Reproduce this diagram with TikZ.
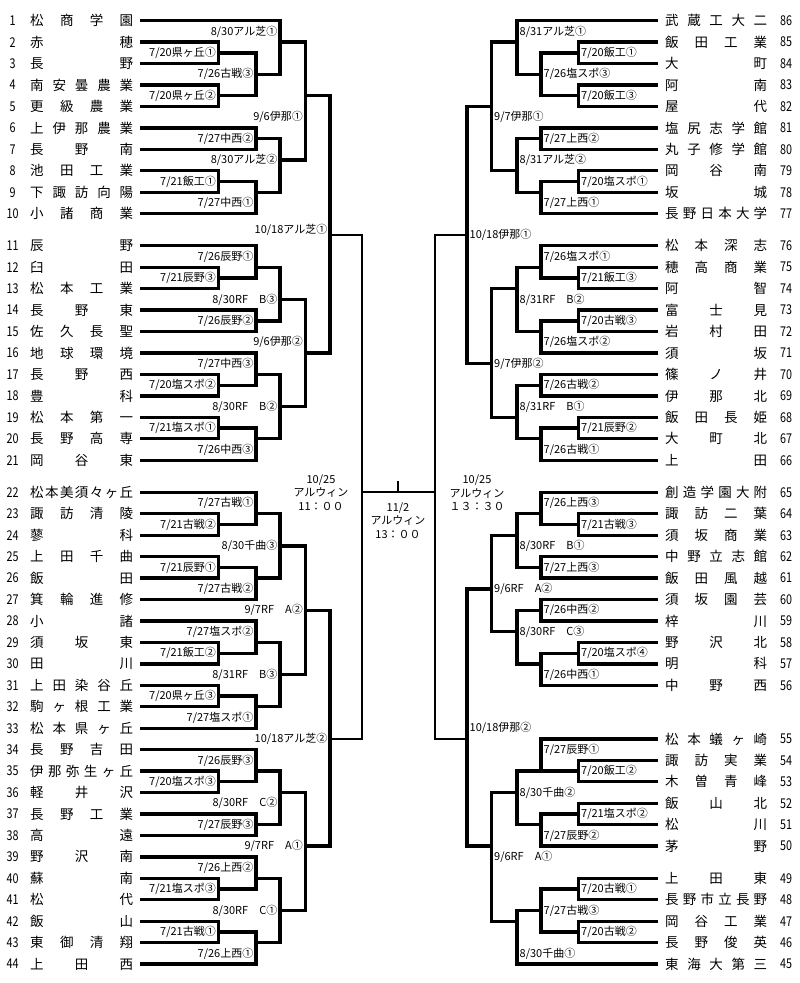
\documentclass[tikz,border=0pt]{standalone}
\usepackage{fontspec}
\usepackage{graphicx}
\setmainfont{Noto Sans CJK JP}
\def\sprEnd{}
\def\spr#1{\sprA#1\sprEnd}
\def\sprA#1#2{#1\ifx#2\sprEnd\else\hfill\expandafter\sprA\expandafter#2\fi}
\newcount\labc
\def\LA{218.5}\def\LB{256}\def\LC{280}\def\LD{305.5}\def\LE{330}\def\LF{362}
\def\RA{578.5}\def\RB{541}\def\RC{517}\def\RD{491.5}\def\RE{467}\def\RF{435}
\tikzset{
 U/.style={line width=3.3pt,line cap=rect},
 C/.style={line width=2pt,line cap=rect},
 O/.style={U},
 nm/.style={inner sep=0pt,font=\fontsize{13.5}{14}\selectfont},
 num/.style={inner sep=0pt,font=\fontsize{13.5}{14}\selectfont},
 lab/.style={inner sep=0pt,font=\fontsize{11}{12}\selectfont},
 ctr/.style={inner sep=0pt,align=center,font=\fontsize{11}{13.5}\selectfont},
}
\newcommand\LT[5]{%
  \node[num] (n#1) at (12.5,#2) {\scalebox{0.8}[1]{#1}};
  \node[nm,anchor=west] (t#1) at (30,#2) {\makebox[103pt][s]{\spr{#3}}};
  \draw[#5] (142,#2) -- (#4,#2);
}
\newcommand\RT[5]{%
  \node[num] (n#1) at (786,#2) {\scalebox{0.8}[1]{#1}};
  \node[nm,anchor=west] (t#1) at (665,#2) {\makebox[102pt][s]{\spr{#3}}};
  \draw[#5] (656,#2) -- (#4,#2);
}
\newcommand\LM[9]{%
  \draw[#6] (#1,#2) -- (#1,#4);
  \draw[#7] (#1,#4) -- (#1,#3);
  \draw[O] (#1,#4) -- (#5,#4);
  \global\advance\labc by 1
  \node[lab,anchor=east] (m\the\labc) at ([xshift=-2.5pt]#1,#9) {#8};
}
\newcommand\RM[9]{%
  \draw[#6] (#1,#2) -- (#1,#4);
  \draw[#7] (#1,#4) -- (#1,#3);
  \draw[O] (#1,#4) -- (#5,#4);
  \global\advance\labc by 1
  \node[lab,anchor=west] (m\the\labc) at ([xshift=2.5pt]#1,#9) {#8};
}
\begin{document}
\begin{tikzpicture}[x=1pt,y=-10.72pt]
\useasboundingbox[fill=white] (0,-1.931) rectangle (800,89.767);
% ---------------- left teams
\LT{1}{0}{松商学園}{\LC}{U}
\LT{2}{2}{赤穂}{\LA}{U}
\LT{3}{4}{長野}{\LA}{U}
\LT{4}{6}{南安曇農業}{\LA}{U}
\LT{5}{8}{更級農業}{\LA}{U}
\LT{6}{10}{上伊那農業}{\LB}{U}
\LT{7}{12}{長野南}{\LB}{U}
\LT{8}{14}{池田工業}{\LA}{U}
\LT{9}{16}{下諏訪向陽}{\LA}{U}
\LT{10}{18}{小諸商業}{\LB}{U}
\LT{11}{21}{辰野}{\LB}{U}
\LT{12}{23}{臼田}{\LA}{U}
\LT{13}{25}{松本工業}{\LA}{U}
\LT{14}{27}{長野東}{\LB}{U}
\LT{15}{29}{佐久長聖}{\LB}{U}
\LT{16}{31}{地球環境}{\LB}{U}
\LT{17}{33}{長野西}{\LA}{U}
\LT{18}{35}{豊科}{\LA}{U}
\LT{19}{37}{松本第一}{\LA}{U}
\LT{20}{39}{長野高専}{\LA}{U}
\LT{21}{41}{岡谷東}{\LB}{U}
\LT{22}{44}{松本美須々ヶ丘}{\LB}{U}
\LT{23}{46}{諏訪清陵}{\LA}{U}
\LT{24}{48}{蓼科}{\LA}{U}
\LT{25}{50}{上田千曲}{\LA}{U}
\LT{26}{52}{飯田}{\LA}{U}
\LT{27}{54}{箕輪進修}{\LB}{U}
\LT{28}{56}{小諸}{\LB}{U}
\LT{29}{58}{須坂東}{\LA}{U}
\LT{30}{60}{田川}{\LA}{U}
\LT{31}{62}{上田染谷丘}{\LA}{U}
\LT{32}{64}{駒ヶ根工業}{\LA}{U}
\LT{33}{66}{松本県ヶ丘}{\LB}{U}
\LT{34}{68}{長野吉田}{\LB}{U}
\LT{35}{70}{伊那弥生ヶ丘}{\LA}{U}
\LT{36}{72}{軽井沢}{\LA}{U}
\LT{37}{74}{長野工業}{\LB}{U}
\LT{38}{76}{高遠}{\LB}{U}
\LT{39}{78}{野沢南}{\LB}{U}
\LT{40}{80}{蘇南}{\LA}{U}
\LT{41}{82}{松代}{\LA}{U}
\LT{42}{84}{飯山}{\LA}{U}
\LT{43}{86}{東御清翔}{\LA}{U}
\LT{44}{88}{上田西}{\LB}{U}
% ---------------- right teams
\RT{86}{0}{武蔵工大二}{\RC}{U}
\RT{85}{2}{飯田工業}{\RA}{U}
\RT{84}{4}{大町}{\RA}{U}
\RT{83}{6}{阿南}{\RA}{U}
\RT{82}{8}{屋代}{\RA}{U}
\RT{81}{10}{塩尻志学館}{\RB}{U}
\RT{80}{12}{丸子修学館}{\RB}{U}
\RT{79}{14}{岡谷南}{\RA}{U}
\RT{78}{16}{坂城}{\RA}{U}
\RT{77}{18}{長野日本大学}{\RB}{U}
\RT{76}{21}{松本深志}{\RB}{U}
\RT{75}{23}{穂高商業}{\RA}{U}
\RT{74}{25}{阿智}{\RA}{U}
\RT{73}{27}{富士見}{\RA}{U}
\RT{72}{29}{岩村田}{\RA}{U}
\RT{71}{31}{須坂}{\RB}{U}
\RT{70}{33}{篠ノ井}{\RB}{U}
\RT{69}{35}{伊那北}{\RB}{U}
\RT{68}{37}{飯田長姫}{\RA}{U}
\RT{67}{39}{大町北}{\RA}{U}
\RT{66}{41}{上田}{\RB}{U}
\RT{65}{44}{創造学園大附}{\RB}{U}
\RT{64}{46}{諏訪二葉}{\RA}{U}
\RT{63}{48}{須坂商業}{\RA}{U}
\RT{62}{50}{中野立志館}{\RB}{U}
\RT{61}{52}{飯田風越}{\RB}{U}
\RT{60}{54}{須坂園芸}{\RB}{U}
\RT{59}{56}{梓川}{\RB}{U}
\RT{58}{58}{野沢北}{\RA}{U}
\RT{57}{60}{明科}{\RA}{U}
\RT{56}{62}{中野西}{\RB}{U}
\RT{55}{67}{松本蟻ヶ崎}{\RB}{U}
\RT{54}{69}{諏訪実業}{\RA}{U}
\RT{53}{71}{木曽青峰}{\RA}{U}
\RT{52}{73}{飯山北}{\RA}{U}
\RT{51}{75}{松川}{\RA}{U}
\RT{50}{77}{茅野}{\RB}{U}
\RT{49}{80}{上田東}{\RA}{U}
\RT{48}{82}{長野市立長野}{\RA}{U}
\RT{47}{84}{岡谷工業}{\RA}{U}
\RT{46}{86}{長野俊英}{\RA}{U}
\RT{45}{88}{東海大第三}{\RC}{U}
% ---------------- left matches
\LM{\LA}{2}{4}{3}{\LB}{U}{U}{7/20県ヶ丘①}{3}
\LM{\LA}{6}{8}{7}{\LB}{U}{U}{7/20県ヶ丘②}{7}
\LM{\LB}{3}{7}{5}{\LC}{U}{U}{7/26古戦③}{5}
\LM{\LC}{0}{5}{2}{\LD}{U}{U}{8/30アル芝①}{1}
\LM{\LB}{10}{12}{11}{\LC}{U}{U}{7/27中西②}{11}
\LM{\LA}{14}{16}{15}{\LB}{U}{U}{7/21飯工①}{15}
\LM{\LB}{15}{18}{16}{\LC}{U}{U}{7/27中西①}{17}
\LM{\LC}{11}{16}{13}{\LD}{U}{U}{8/30アル芝②}{13}
\LM{\LD}{2}{13}{7}{\LE}{U}{U}{9/6伊那①}{9}
\LM{\LA}{23}{25}{24}{\LB}{U}{U}{7/21辰野③}{24}
\LM{\LB}{21}{24}{23}{\LC}{U}{U}{7/26辰野①}{22}
\LM{\LB}{27}{29}{28}{\LC}{U}{U}{7/26辰野②}{28}
\LM{\LC}{23}{28}{26}{\LD}{U}{U}{8/30RF　B③}{26}
\LM{\LA}{33}{35}{34}{\LB}{U}{U}{7/20塩スポ②}{34}
\LM{\LB}{31}{34}{33}{\LC}{U}{U}{7/27中西③}{32}
\LM{\LA}{37}{39}{38}{\LB}{U}{U}{7/21塩スポ①}{38}
\LM{\LB}{38}{41}{39}{\LC}{U}{U}{7/26中西③}{40}
\LM{\LC}{33}{39}{36}{\LD}{U}{U}{8/30RF　B②}{36}
\LM{\LD}{26}{36}{31}{\LE}{U}{U}{9/6伊那②}{30}
\LM{\LA}{46}{48}{47}{\LB}{U}{U}{7/21古戦②}{47}
\LM{\LB}{44}{47}{46}{\LC}{U}{U}{7/27古戦①}{45}
\LM{\LA}{50}{52}{51}{\LB}{U}{U}{7/21辰野①}{51}
\LM{\LB}{51}{54}{52}{\LC}{U}{U}{7/27古戦②}{53}
\LM{\LC}{46}{52}{49}{\LD}{U}{U}{8/30千曲③}{49}
\LM{\LA}{58}{60}{59}{\LB}{U}{U}{7/21飯工②}{59}
\LM{\LB}{56}{59}{58}{\LC}{U}{U}{7/27塩スポ②}{57}
\LM{\LA}{62}{64}{63}{\LB}{U}{U}{7/20県ヶ丘③}{63}
\LM{\LB}{63}{66}{64}{\LC}{U}{U}{7/27塩スポ①}{65}
\LM{\LC}{58}{64}{61}{\LD}{U}{U}{8/31RF　B③}{61}
\LM{\LD}{49}{61}{55}{\LE}{U}{U}{9/7RF　A②}{55}
\LM{\LA}{70}{72}{71}{\LB}{U}{U}{7/20塩スポ③}{71}
\LM{\LB}{68}{71}{70}{\LC}{U}{U}{7/26辰野③}{69}
\LM{\LB}{74}{76}{75}{\LC}{U}{U}{7/27辰野③}{75}
\LM{\LC}{70}{75}{72}{\LD}{U}{U}{8/30RF　C②}{73}
\LM{\LA}{80}{82}{81}{\LB}{U}{U}{7/21塩スポ③}{81}
\LM{\LB}{78}{81}{80}{\LC}{U}{U}{7/26上西②}{79}
\LM{\LA}{84}{86}{85}{\LB}{U}{U}{7/21古戦①}{85}
\LM{\LB}{85}{88}{86}{\LC}{U}{U}{7/26上西①}{87}
\LM{\LC}{80}{86}{83}{\LD}{U}{U}{8/30RF　C①}{83}
\LM{\LD}{72}{83}{77}{\LE}{U}{U}{9/7RF　A①}{77}
% ---------------- right matches
\RM{\RA}{2}{4}{3}{\RB}{U}{U}{7/20飯工①}{3}
\RM{\RA}{6}{8}{7}{\RB}{U}{U}{7/20飯工③}{7}
\RM{\RB}{3}{7}{5}{\RC}{U}{U}{7/26塩スポ③}{5}
\RM{\RC}{0}{5}{2}{\RD}{U}{U}{8/31アル芝①}{1}
\RM{\RB}{10}{12}{11}{\RC}{U}{U}{7/27上西②}{11}
\RM{\RA}{14}{16}{15}{\RB}{U}{U}{7/20塩スポ①}{15}
\RM{\RB}{15}{18}{16}{\RC}{U}{U}{7/27上西①}{17}
\RM{\RC}{11}{16}{14}{\RD}{U}{U}{8/31アル芝②}{13}
\RM{\RD}{2}{14}{8}{\RE}{U}{U}{9/7伊那①}{9}
\RM{\RA}{23}{25}{24}{\RB}{U}{U}{7/21飯工③}{24}
\RM{\RB}{21}{24}{23}{\RC}{U}{U}{7/26塩スポ①}{22}
\RM{\RA}{27}{29}{28}{\RB}{U}{U}{7/20古戦③}{28}
\RM{\RB}{28}{31}{29}{\RC}{U}{U}{7/26塩スポ②}{30}
\RM{\RC}{23}{29}{25}{\RD}{U}{U}{8/31RF　B②}{26}
\RM{\RB}{33}{35}{34}{\RC}{U}{U}{7/26古戦②}{34}
\RM{\RA}{37}{39}{38}{\RB}{U}{U}{7/21辰野②}{38}
\RM{\RB}{38}{41}{39}{\RC}{U}{U}{7/26古戦①}{40}
\RM{\RC}{34}{39}{37}{\RD}{U}{U}{8/31RF　B①}{36}
\RM{\RD}{25}{37}{32}{\RE}{U}{U}{9/7伊那②}{32}
\RM{\RA}{46}{48}{47}{\RB}{U}{U}{7/21古戦③}{47}
\RM{\RB}{44}{47}{46}{\RC}{U}{U}{7/26上西③}{45}
\RM{\RB}{50}{52}{51}{\RC}{U}{U}{7/27上西③}{51}
\RM{\RC}{46}{51}{48}{\RD}{U}{U}{8/30RF　B①}{49}
\RM{\RB}{54}{56}{55}{\RC}{U}{U}{7/26中西②}{55}
\RM{\RA}{58}{60}{59}{\RB}{U}{U}{7/20塩スポ④}{59}
\RM{\RB}{59}{62}{60}{\RC}{U}{U}{7/26中西①}{61}
\RM{\RC}{55}{60}{57}{\RD}{U}{U}{8/30RF　C③}{57}
\RM{\RD}{48}{57}{53}{\RE}{U}{U}{9/6RF　A②}{53}
\RM{\RA}{69}{71}{70}{\RB}{U}{U}{7/20飯工②}{70}
\RM{\RB}{67}{70}{70}{\RC}{U}{U}{7/27辰野①}{68}
\RM{\RA}{73}{75}{74}{\RB}{U}{U}{7/21塩スポ②}{74}
\RM{\RB}{74}{77}{75}{\RC}{U}{U}{7/27辰野②}{76}
\RM{\RC}{70}{75}{72}{\RD}{U}{U}{8/30千曲②}{72}
\RM{\RA}{80}{82}{81}{\RB}{U}{U}{7/20古戦①}{81}
\RM{\RA}{84}{86}{85}{\RB}{U}{U}{7/20古戦②}{85}
\RM{\RB}{81}{85}{83}{\RC}{U}{U}{7/27古戦③}{83}
\RM{\RC}{83}{88}{84}{\RD}{U}{U}{8/30千曲①}{87}
\RM{\RD}{72}{84}{77}{\RE}{U}{U}{9/6RF　A①}{78}
% ---------------- quarterfinals (10/18): thinner outputs
\tikzset{O/.style={C}}
\LM{\LE}{7}{31}{20}{\LF}{U}{U}{10/18アル芝①}{19.5}
\LM{\LE}{55}{77}{67}{\LF}{U}{U}{10/18アル芝②}{67}
\RM{\RE}{8}{32}{20}{\RF}{U}{U}{10/18伊那①}{20}
\RM{\RE}{53}{77}{67}{\RF}{U}{U}{10/18伊那②}{66}
% ---------------- semifinals and final
\draw[C] (\LF,20) -- (\LF,67);
\draw[C] (\RF,20) -- (\RF,67);
\draw[C] (\LF,44) -- (\RF,44);
\draw[C] (398,43.05) -- (398,44);
\node[ctr] (sl) at (321,44) {10/25\\アルウィン\\11：００};
\node[ctr] (fi) at (398,46.6) {11/2\\アルウィン\\13：００};
\node[ctr] (sr) at (477,44.05) {10/25\\アルウィン\\１３：３０};
\end{tikzpicture}
\end{document}
